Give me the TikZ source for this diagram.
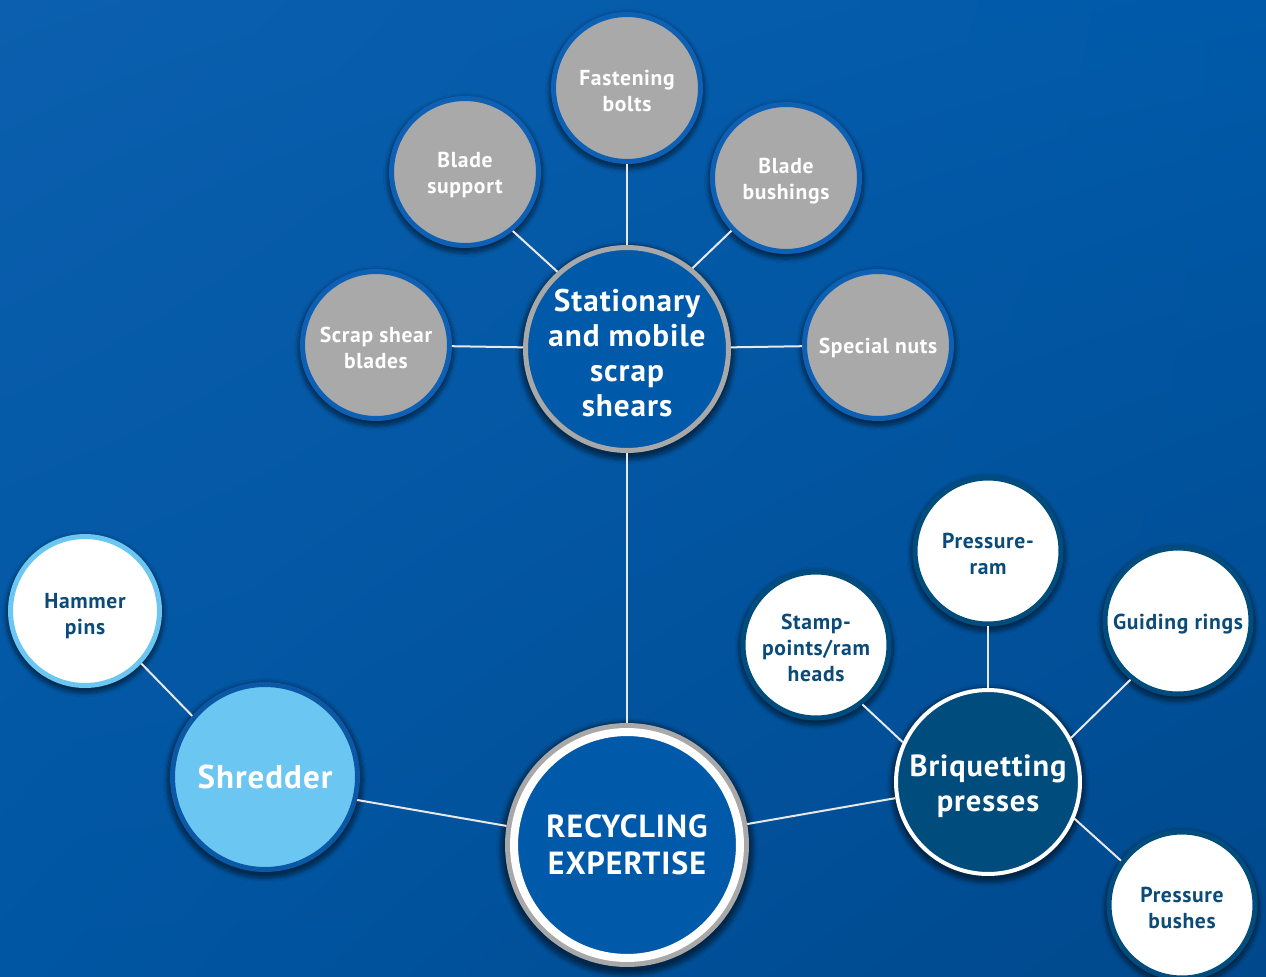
\documentclass[tikz,border=0pt]{standalone}
\usepackage{fontspec}
\setmainfont{PT Sans}[LetterSpace=3]
\usetikzlibrary{shadows.blur,shadings}
\definecolor{bgUL}{HTML}{0B5FAE}
\definecolor{bgUR}{HTML}{005AA9}
\definecolor{bgLL}{HTML}{0056A3}
\definecolor{bgLR}{HTML}{00488C}
\definecolor{leafgray}{HTML}{A9A9A9}
\definecolor{leafborder}{HTML}{0D60B3}
\definecolor{statfill}{HTML}{0059A9}
\definecolor{ringgray}{HTML}{A8A8A8}
\definecolor{shredfill}{HTML}{6BC6F2}
\definecolor{shredborder}{HTML}{0A58A6}
\definecolor{briqfill}{HTML}{004C7D}
\definecolor{darktext}{HTML}{0B4B7A}
\definecolor{linecol}{HTML}{E8E8E8}
\begin{document}
\begin{tikzpicture}[x=0.02cm,y=-0.02cm,
  sh/.style={blur shadow={shadow xshift=0pt, shadow yshift=-0.06cm, shadow opacity=50, shadow blur steps=10, shadow scale=1.06}},
  base/.style={circle, inner sep=0pt, sh},
  lab/.style={align=center, inner sep=0pt, yshift=-0.06cm, font=\bfseries\fontsize{12.3}{14.8}\selectfont},
  hublab/.style={align=center, inner sep=0pt, text=white},
  grayleaf/.style={base, fill=leafgray, draw=leafborder, line width=0.1cm, minimum size=2.94cm,
     label={[lab, text=white]center:#1}},
  whiteleaf/.style={base, fill=white, draw=briqfill, line width=0.1cm, minimum size=2.92cm,
     label={[lab, text=darktext]center:#1}},
  hammerleaf/.style={base, fill=white, draw=shredfill, line width=0.1cm, minimum size=2.98cm,
     label={[lab, text=darktext, yshift=-0.04cm]center:#1}},
  stathub/.style={base, fill=statfill, draw=ringgray, line width=0.1cm, minimum size=4.06cm,
     label={[hublab, yshift=-0.08cm, font=\bfseries\fontsize{17.8}{20}\selectfont]center:#1}},
  shredhub/.style={base, fill=shredfill, draw=shredborder, line width=0.1cm, minimum size=3.7cm,
     label={[hublab, font=\bfseries\fontsize{18.8}{21}\selectfont]center:#1}},
  briqhub/.style={base, fill=briqfill, draw=white, line width=0.08cm, minimum size=3.68cm,
     label={[hublab, yshift=-0.09cm, font=\bfseries\fontsize{17.4}{20}\selectfont]center:#1}},
  rechub/.style={circle, inner sep=0pt,
     blur shadow={shadow xshift=0pt, shadow yshift=-0.06cm, shadow opacity=50, shadow blur steps=10, shadow scale=1.12},
     preaction={draw=ringgray, line width=0.36cm},
     fill=statfill, draw=white, line width=0.16cm, minimum size=4.52cm, outer sep=0.18cm,
     label={[hublab, font=\bfseries\fontsize{18.2}{21}\selectfont]center:#1}},
  conn/.style={draw=linecol, line width=0.04cm}
]
\useasboundingbox (0,0) rectangle (1266,976);
\shade[upper left=bgUL, upper right=bgUR, lower left=bgLL, lower right=bgLR] (0,0) rectangle (1266,976);

% hubs
\node[rechub={RECYCLING\\EXPERTISE}] (rec) at (627,845) {};
\node[stathub={Stationary\\and mobile\\scrap\\shears}] (stat) at (627,349) {};
\node[shredhub={Shredder}] (shred) at (265,777) {};
\node[briqhub={Briquetting\\presses}] (briq) at (988,782) {};

% scrap shear leaves
\node[grayleaf={Scrap shear\\blades}] (blades) at (376,345) {};
\node[grayleaf={Blade\\support}] (support) at (465,172) {};
\node[grayleaf={Fastening\\bolts}] (bolts) at (627,88) {};
\node[grayleaf={Blade\\bushings}] (bushings) at (786,178) {};
\node[grayleaf={Special nuts}] (nuts) at (878,345) {};

% shredder leaf
\node[hammerleaf={Hammer\\pins}] (hammer) at (85,611) {};

% briquetting leaves
\node[whiteleaf={Pressure-\\ram}] (ram) at (988,551) {};
\node[whiteleaf={Stamp-\\points/ram\\heads}] (stamp) at (816,645) {};
\node[whiteleaf={Guiding rings}] (guide) at (1178,621) {};
\node[whiteleaf={Pressure\\bushes}] (bushes) at (1182,905) {};

% connectors
\draw[conn] (rec) -- (stat);
\draw[conn] (rec.171) -- (shred.-14);
\draw[conn] (rec) -- (briq);
\draw[conn] (stat) -- (blades);
\draw[conn] (stat.132) -- (support.-51);
\draw[conn] (stat) -- (bolts);
\draw[conn] (stat.51) -- (bushings.224);
\draw[conn] (stat) -- (nuts);
\draw[conn] (shred.140) -- (hammer.-43);
\draw[conn] (briq) -- (ram);
\draw[conn] (briq.155) -- (stamp.-52);
\draw[conn] (briq.28) -- (guide.231);
\draw[conn] (briq.-23) -- (bushes.144);
\end{tikzpicture}
\end{document}
